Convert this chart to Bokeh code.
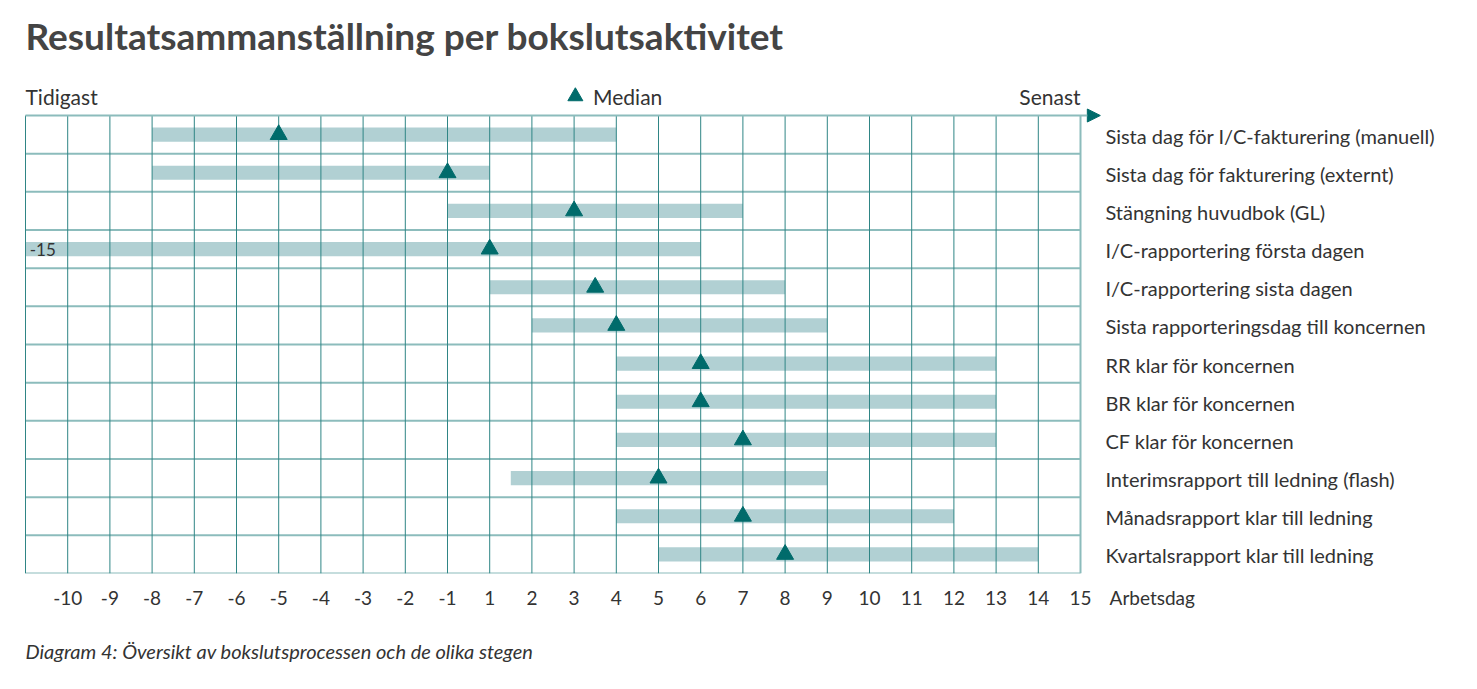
from bokeh.plotting import figure
from bokeh.models import Range1d, FixedTicker, Arrow, NormalHead, ColumnDataSource, Title
from bokeh.core.properties import value
from bokeh.embed import file_html
from bokeh.resources import INLINE

# ---------------- data ----------------
activities = [
    "Sista dag för I/C-fakturering (manuell)",
    "Sista dag för fakturering (externt)",
    "Stängning huvudbok (GL)",
    "I/C-rapportering första dagen",
    "I/C-rapportering sista dagen",
    "Sista rapporteringsdag till koncernen",
    "RR klar för koncernen",
    "BR klar för koncernen",
    "CF klar för koncernen",
    "Interimsrapport till ledning (flash)",
    "Månadsrapport klar till ledning",
    "Kvartalsrapport klar till ledning",
]
earliest = [-8, -8, -1, -15, 1, 2, 4, 4, 4, 1.5, 4, 5]
latest = [4, 1, 7, 6, 8, 9, 13, 13, 13, 9, 12, 14]
median = [-5, -1, 3, 1, 3.5, 4, 6, 6, 7, 5, 7, 8]
days = [-10, -9, -8, -7, -6, -5, -4, -3, -2, -1, 1, 2, 3, 4, 5, 6, 7, 8, 9, 10, 11, 12, 13, 14, 15]
x_unit_label = "Arbetsdag"
title_text = "Resultatsammanställning per bokslutsaktivitet"
caption_text = "Diagram 4: Översikt av bokslutsprocessen och de olika stegen"

TEAL = "#006b6b"
VLINE = "#2f8585"
HLINE = "#8cbcbc"
BAR = "#b1d0d3"
TXT = "#333333"
FONT = "Lato"

# business-day axis has no day 0: map day -> slot position (slot 0 = left edge)
XMIN, XMAX = 0, 25
def pos(d):
    p = d + 11 if d < 0 else d + 10
    return max(p, XMIN)

n = len(activities)
rows = [i + 0.5 for i in range(n)]
src = ColumnDataSource(dict(
    y=rows,
    left=[pos(v) for v in earliest],
    right=[pos(v) for v in latest],
    med=[pos(v) for v in median],
    name=activities,
))

W, H = 1475, 689
PX_X = 42.2      # px per slot
LEFT, TOP, GRID_BOTTOM = 25, 115, 573
BOTTOM = H - GRID_BOTTOM
PX_Y = (GRID_BOTTOM - TOP) / n
p = figure(width=W, height=H, output_backend="svg", toolbar_location=None,
           x_range=Range1d(-LEFT / PX_X, (W - LEFT) / PX_X),
           y_range=Range1d(n, -TOP / PX_Y),
           x_axis_location="below", y_axis_location=None,
           min_border_left=0, min_border_right=0, min_border_top=0,
           min_border_bottom=BOTTOM)
p.outline_line_color = None
p.grid.visible = False
p.background_fill_color = "white"
p.border_fill_color = "white"

# bars
p.hbar(y="y", left="left", right="right", height=0.37, source=src,
       fill_color=BAR, line_color=None)

# grid lines (drawn over bars)
p.segment(x0=[XMIN] * n, x1=[XMAX] * n, y0=list(range(1, n + 1)), y1=list(range(1, n + 1)),
          line_color=HLINE, line_width=2)
p.segment(x0=list(range(XMIN, XMAX)), x1=list(range(XMIN, XMAX)), y0=[0] * XMAX, y1=[n] * XMAX,
          line_color=VLINE, line_width=1)
p.segment(x0=[XMAX], x1=[XMAX], y0=[0], y1=[n], line_color=HLINE, line_width=2)

# top axis line with arrow
p.add_layout(Arrow(x_start=XMIN, y_start=0, x_end=XMAX + 0.47, y_end=0, line_color=HLINE, line_width=2,
                   end=NormalHead(size=13, fill_color=TEAL, line_color=TEAL)))

# medians
p.scatter(x="med", y="y", source=src, marker="triangle", size=17,
          fill_color=TEAL, line_color=TEAL)

# activity names at right
p.text(x=XMAX + 0.59, y="y", text="name", source=src, text_font=value(FONT),
       text_font_size="20px", text_color=TXT, text_baseline="middle", text_align="left",
       y_offset=1)

# clipped start labels
for r, e in zip(rows, earliest):
    if (e + 11) < XMIN:
        p.text(x=[XMIN + 0.1], y=[r], text=[str(e)], text_font=value(FONT), text_font_size="17px",
               text_color=TXT, text_baseline="middle", text_align="left")

# header row
hy = -0.5
p.text(x=[XMIN], y=[hy], text=["Tidigast"], text_font=value(FONT), text_font_size="21px",
       text_color=TXT, text_baseline="middle", text_align="left")
p.text(x=[XMAX], y=[hy], text=["Senast"], text_font=value(FONT), text_font_size="21px",
       text_color=TXT, text_baseline="middle", text_align="right")
p.scatter(x=[13.03], y=[hy], marker="triangle", size=15, fill_color=TEAL, line_color=TEAL)
p.text(x=[13.45], y=[hy], text=["Median"], text_font=value(FONT), text_font_size="21px",
       text_color=TXT, text_baseline="middle", text_align="left")

# title
p.text(x=[XMIN], y=[(35 - TOP) / PX_Y], text=[title_text], text_font=value(FONT), text_font_size="37px",
       text_font_style="bold", text_color="#444444", text_baseline="middle", text_align="left")

# x axis (bottom)
xa = p.xaxis[0]
ticks = [pos(d) for d in days] + [26.7]
xa.ticker = FixedTicker(ticks=ticks)
overrides = {pos(d): str(d) for d in days}
overrides[26.7] = x_unit_label
xa.major_label_overrides = overrides
xa.axis_line_color = None
xa.major_tick_line_color = None
xa.minor_tick_line_color = None
xa.major_label_standoff = 6
xa.major_label_text_font = FONT
xa.major_label_text_font_size = "19px"
xa.major_label_text_color = TXT

# caption
cap = Title(text=caption_text, align="left", offset=LEFT, standoff=51,
            text_font=FONT, text_font_size="20px", text_font_style="italic",
            text_color=TXT)
p.add_layout(cap, "below")

open("out.html", "w").write(file_html(p, INLINE))
